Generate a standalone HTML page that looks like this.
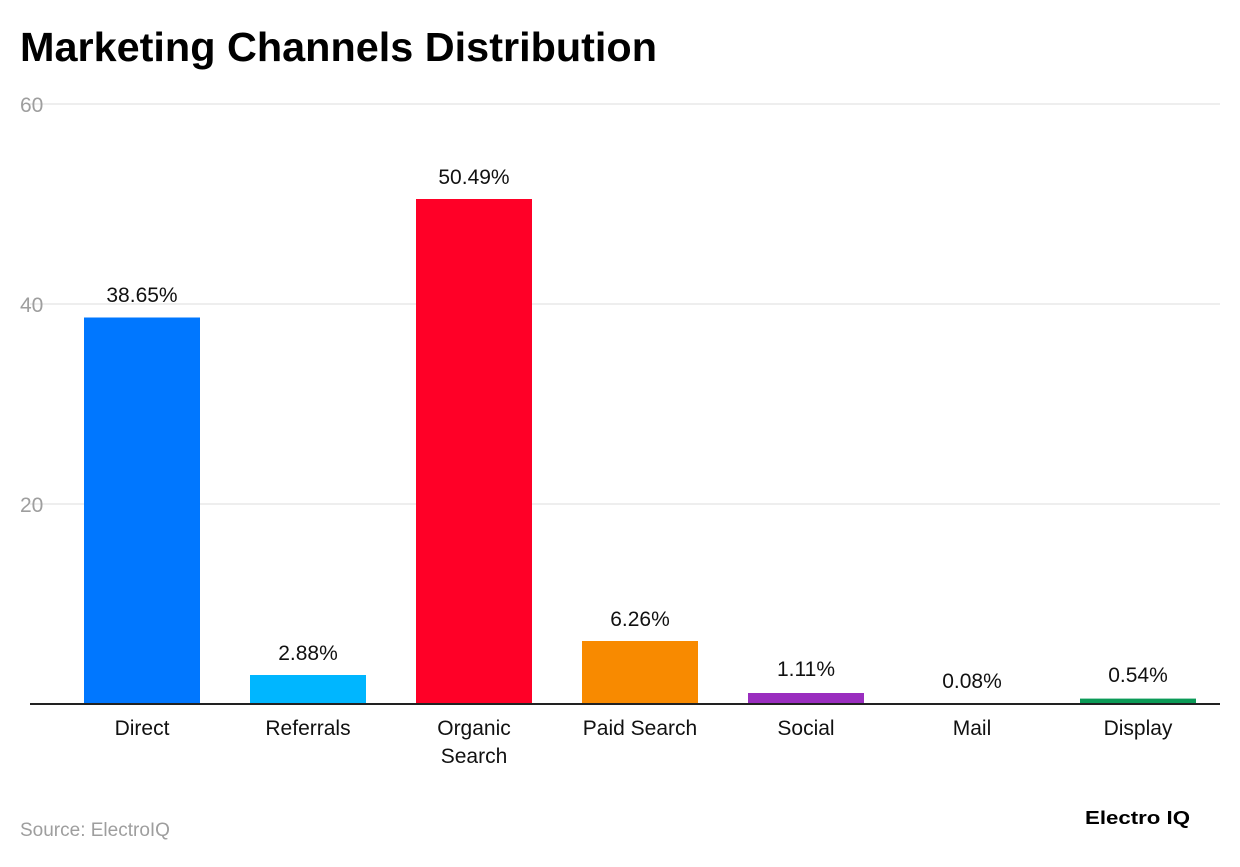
<!DOCTYPE html>
<html><head><meta charset="utf-8"><style>
body{margin:0;background:#fff;width:1240px;height:862px;overflow:hidden;font-family:"Liberation Sans",sans-serif;}
</style></head><body>
<svg width="1240" height="862" xmlns="http://www.w3.org/2000/svg" font-family="Liberation Sans, sans-serif">
<text x="20" y="61" font-size="41" font-weight="bold" fill="#000" textLength="637" lengthAdjust="spacingAndGlyphs">Marketing Channels Distribution</text>
<g stroke="#dddddd" stroke-width="1">
<line x1="30" y1="104" x2="1220" y2="104"/>
<line x1="30" y1="304" x2="1220" y2="304"/>
<line x1="30" y1="504" x2="1220" y2="504"/>
</g>
<g fill="#9e9e9e" font-size="21">
<text x="20" y="112">60</text>
<text x="20" y="312">40</text>
<text x="20" y="512">20</text>
</g>
<rect x="84" y="317.5" width="116" height="386.5" fill="#0077ff"/>
<rect x="250" y="675" width="116" height="29" fill="#00b6ff"/>
<rect x="416" y="199" width="116" height="505" fill="#ff0027"/>
<rect x="582" y="641" width="116" height="63" fill="#f88a00"/>
<rect x="748" y="693" width="116" height="11" fill="#9a2ebf"/>
<rect x="914" y="703" width="116" height="1" fill="#333"/>
<rect x="1080" y="698.6" width="116" height="5.4" fill="#0b9a57"/>
<line x1="30" y1="704" x2="1220" y2="704" stroke="#222" stroke-width="2"/>
<g font-size="21" fill="#111" text-anchor="middle">
<text x="142" y="302">38.65%</text>
<text x="308" y="660">2.88%</text>
<text x="474" y="184">50.49%</text>
<text x="640" y="626">6.26%</text>
<text x="806" y="676">1.11%</text>
<text x="972" y="688">0.08%</text>
<text x="1138" y="682">0.54%</text>
<text x="142" y="735">Direct</text>
<text x="308" y="735">Referrals</text>
<text x="474" y="735">Organic</text>
<text x="474" y="763">Search</text>
<text x="640" y="735">Paid Search</text>
<text x="806" y="735">Social</text>
<text x="972" y="735">Mail</text>
<text x="1138" y="735">Display</text>
</g>
<text x="20" y="836" font-size="19" fill="#9e9e9e">Source: ElectroIQ</text>
<text x="1085" y="824" font-size="18" font-weight="bold" fill="#000" textLength="105" lengthAdjust="spacingAndGlyphs">Electro IQ</text>
</svg>
</body></html>
